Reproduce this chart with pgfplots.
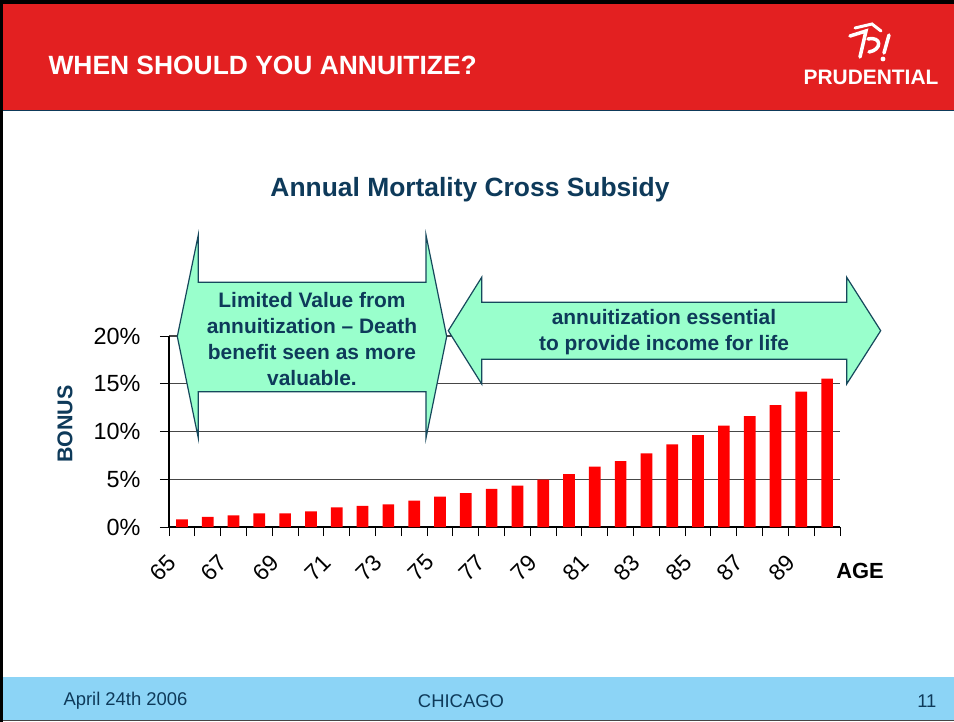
\documentclass[border=0pt]{standalone}
\usepackage{fontspec}
\setmainfont{Liberation Sans}
\usepackage{pgfplots}
\pgfplotsset{compat=1.18}

\definecolor{hdrred}{RGB}{227,32,33}
\definecolor{footblue}{RGB}{140,212,246}
\definecolor{navy}{RGB}{14,58,90}
\definecolor{arrowfill}{RGB}{153,255,204}
\definecolor{arrowline}{RGB}{22,72,92}
\definecolor{gridgray}{RGB}{70,70,70}
\definecolor{barred}{RGB}{255,0,0}

\begin{document}
\begin{tikzpicture}
\path[use as bounding box] (0,0) rectangle (954bp,-722bp);

% slide background, header, footer
\begin{scope}[x=1bp,y=-1bp]
\fill[white] (0,0) rectangle (954,722);
\fill[hdrred] (0,4) rectangle (954,110);
\draw[navy, line width=1.5bp] (0,110.5) -- (954,110.5);
\fill[black] (0,0) rectangle (954,4);
\fill[footblue] (0,677) rectangle (954,720);
\draw[gridgray, line width=1bp] (0,720.5) -- (954,720.5);
\fill[black] (0,0) rectangle (3,722);

\node[anchor=west, white, font=\bfseries\fontsize{26.5}{30}\selectfont] at (45,65) {WHEN SHOULD YOU ANNUITIZE?};

% logo (rough)
\draw[white, line width=3.5bp, line cap=round] (850,36) -- (866,31) -- (860,57);
\draw[white, line width=3.5bp, line cap=round] (868,39) .. controls (882,36) and (882,50) .. (869,52);
\draw[white, line width=3bp, line cap=round] (855,28) -- (872,24) -- (881,31);
\draw[white, line width=3.5bp, line cap=round] (889,35) -- (884,53);
\fill[white] (883,59) circle (2.4);
\node[white, font=\bfseries\fontsize{21}{22}\selectfont, inner sep=0pt] at (871,77) {PRUDENTIAL};

\node[navy, font=\bfseries\fontsize{26.5}{30}\selectfont] at (470,190) {Annual Mortality Cross Subsidy};

\node[anchor=west, navy, font=\fontsize{18.5}{20}\selectfont] at (60,701) {April 24th 2006};
\node[navy, font=\fontsize{18.5}{20}\selectfont] at (461,701) {CHICAGO};
\node[anchor=east, navy, font=\fontsize{18.5}{20}\selectfont] at (940,701) {11};
\end{scope}

\begin{axis}[
  at={(169bp,-527bp)}, anchor=south west,
  scale only axis, width=671bp, height=191bp,
  xmin=64.5, xmax=90.5, ymin=0, ymax=20,
  axis lines*=left,
  axis line style={black, line width=1.2bp},
  ybar, bar width=11.7bp,
  xtick={65,67,...,89},
  xticklabels={65,67,69,71,73,75,77,79,81,83,85,87,89},
  minor xtick={64.5,65.5,...,90.5},
  ytick={0,5,...,20}, yticklabels={0\%,5\%,10\%,15\%,20\%},
  minor ytick={0,5,...,20},
  tick align=outside, major tick length=0pt, minor tick length=9bp,
  tick style={black, line width=1bp},
  ymajorgrids, grid style={gridgray, line width=1.3bp},
  xticklabel style={rotate=45, anchor=east, font=\fontsize{23}{23}\selectfont, xshift=-26bp, yshift=-15bp},
  yticklabel style={font=\fontsize{23.5}{23.5}\selectfont, anchor=east, xshift=-25bp},
  clip=false,
]
\addplot[fill=barred, draw=none] coordinates {
  (65,0.80) (66,1.05) (67,1.22) (68,1.43) (69,1.43) (70,1.64)
  (71,2.06) (72,2.20) (73,2.37) (74,2.76) (75,3.18) (76,3.56)
  (77,3.98) (78,4.33) (79,4.96) (80,5.55) (81,6.32) (82,6.91)
  (83,7.71) (84,8.66) (85,9.63) (86,10.61) (87,11.62) (88,12.77)
  (89,14.17) (90,15.53)
};
\end{axis}

% call-out arrows and axis titles
\begin{scope}[x=1bp,y=-1bp]
\filldraw[fill=arrowfill, draw=arrowline, line width=1.2bp, line join=miter]
  (177.3,336.5) -- (198.3,235) -- (198.3,282.3) -- (426,282.3) -- (426,235)
  -- (446.7,336.5) -- (426,438) -- (426,391.7) -- (198.3,391.7) -- (198.3,438) -- cycle;
\node[navy, align=center, font=\bfseries\fontsize{21}{26}\selectfont] at (312,339)
  {Limited Value from\\annuitization -- Death\\benefit seen as more\\valuable.};

\filldraw[fill=arrowfill, draw=arrowline, line width=1.2bp, line join=miter]
  (448.3,330.7) -- (481.7,277.3) -- (481.7,302.3) -- (846.7,302.3) -- (846.7,277.3)
  -- (880.7,330.7) -- (846.7,384) -- (846.7,359.3) -- (481.7,359.3) -- (481.7,384) -- cycle;
\node[navy, align=center, font=\bfseries\fontsize{21}{26}\selectfont] at (664,332)
  {annuitization essential\\to provide income for life};

\node[rotate=90, navy, font=\bfseries\fontsize{21.5}{22}\selectfont] at (65,424) {BONUS};
\node[black, font=\bfseries\fontsize{22}{22}\selectfont] at (860,571) {AGE};
\end{scope}
\end{tikzpicture}
\end{document}
